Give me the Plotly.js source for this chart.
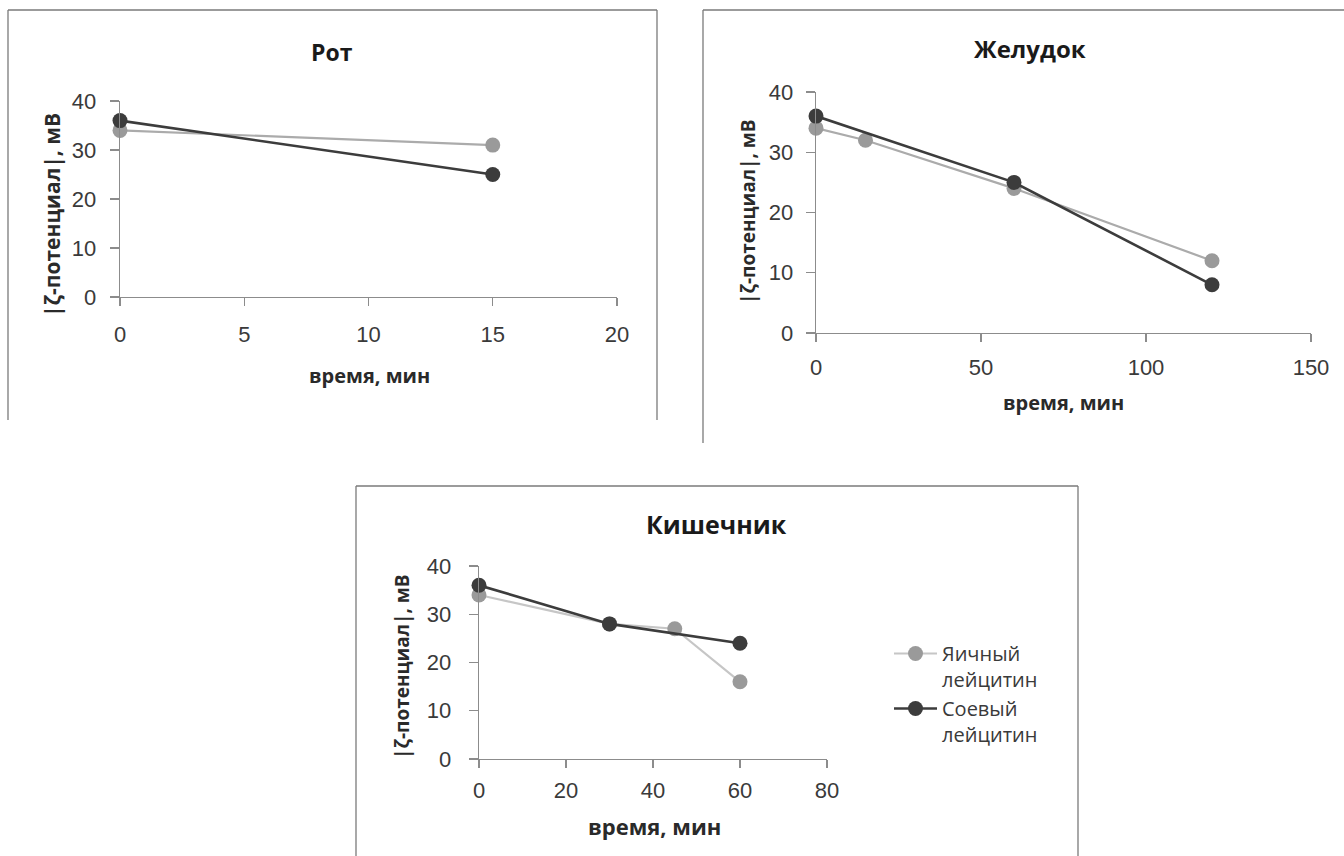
<!DOCTYPE html>
<html>
<head>
<meta charset="utf-8">
<script src="https://cdn.plot.ly/plotly-3.0.1.min.js"></script>
<style>html,body{margin:0;padding:0;background:#fff;}#chart{width:1344px;height:856px;}</style>
</head>
<body>
<div id="chart"></div>
<script>
// ---- Data ----
const seriesNames = ['Яичный<br>лейцитин', 'Соевый<br>лейцитин'];
const panelTitles = ['Рот', 'Желудок', 'Кишечник'];
const xTitle = 'время, мин';
const yTitle = '|ζ-потенциал|, мВ';

const mouthEggTime = [0, 15];
const mouthEgg = [34, 31];
const mouthSoyTime = [0, 15];
const mouthSoy = [36, 25];

const stomachEggTime = [0, 15, 60, 120];
const stomachEgg = [34, 32, 24, 12];
const stomachSoyTime = [0, 60, 120];
const stomachSoy = [36, 25, 8];

const intestineEggTime = [0, 30, 45, 60];
const intestineEgg = [34, 28, 27, 16];
const intestineSoyTime = [0, 30, 60];
const intestineSoy = [36, 28, 24];

const xRanges = [[0, 20], [0, 150], [0, 80]];
const xDticks = [5, 50, 20];
const yRange = [0, 40];
const yDtick = 10;

// ---- Styles ----
const W = 1344, H = 856;
const eggMarker = '#9a9a9a', eggLine = '#ababab';
const soyColor = '#3c3c3c';
const tickFont = {family: 'Liberation Sans, sans-serif', size: 22, color: '#3a3a3a'};
const boldFam = 'Open Sans, Liberation Sans, sans-serif';
const axisColor = '#8c8c8c';

function px(x) { return x / W; }
function py(y) { return 1 - y / H; }

function mk(x, y, name, egg, xa, ya, showlegend, lineColor) {
  return {
    x: x, y: y, name: name, type: 'scatter', mode: 'lines+markers',
    xaxis: xa, yaxis: ya, showlegend: showlegend, cliponaxis: false,
    line: {color: lineColor || (egg ? eggLine : soyColor), width: egg ? 2.2 : 2.6},
    marker: {color: egg ? eggMarker : soyColor, size: 15, symbol: 'circle'}
  };
}

const traces = [
  mk(mouthEggTime, mouthEgg, seriesNames[0], true, 'x', 'y', false),
  mk(mouthSoyTime, mouthSoy, seriesNames[1], false, 'x', 'y', false),
  mk(stomachEggTime, stomachEgg, seriesNames[0], true, 'x2', 'y2', false),
  mk(stomachSoyTime, stomachSoy, seriesNames[1], false, 'x2', 'y2', false),
  mk(intestineEggTime, intestineEgg, seriesNames[0], true, 'x3', 'y3', true, '#c6c6c6'),
  mk(intestineSoyTime, intestineSoy, seriesNames[1], false, 'x3', 'y3', true)
];

function xaxis(i, dom, anchor, standoff) {
  return {
    domain: dom, range: xRanges[i], dtick: xDticks[i], tick0: 0, anchor: anchor,
    showgrid: false, zeroline: false, showline: true, linecolor: axisColor, linewidth: 1.3,
    ticks: 'outside', ticklen: 8, tickcolor: axisColor, tickwidth: 1.3,
    ticklabelstandoff: standoff, ticklabeloverflow: 'allow', tickfont: tickFont, fixedrange: true
  };
}
function yaxis(dom, anchor, standoff) {
  return {
    domain: dom, range: yRange, dtick: yDtick, tick0: 0, anchor: anchor,
    showgrid: false, zeroline: false, showline: true, linecolor: axisColor, linewidth: 1.3,
    ticks: 'outside', ticklen: 9, tickcolor: axisColor, tickwidth: 1.3,
    ticklabelstandoff: standoff, tickfont: tickFont, fixedrange: true
  };
}

// plot-area pixel boxes [x0, x1, yBottom, yTop]
const boxes = [[120, 617, 297, 101], [816, 1311, 333, 92], [479, 827, 759, 566]];
const layout = {
  width: W, height: H, margin: {l: 0, r: 0, t: 0, b: 0},
  paper_bgcolor: '#fff', plot_bgcolor: 'rgba(0,0,0,0)',
  showlegend: true,
  legend: {
    x: px(889), y: py(634), xanchor: 'left', yanchor: 'top', valign: 'top',
    font: {family: 'Open Sans, Liberation Sans, sans-serif', size: 20, color: '#3a3a3a'},
    traceorder: 'normal', itemwidth: 43, bgcolor: 'rgba(0,0,0,0)'
  },
  xaxis: xaxis(0, [px(boxes[0][0]), px(boxes[0][1])], 'y', 9),
  yaxis: yaxis([py(boxes[0][2]), py(boxes[0][3])], 'x', 9),
  xaxis2: xaxis(1, [px(boxes[1][0]), px(boxes[1][1])], 'y2', 6),
  yaxis2: yaxis([py(boxes[1][2]), py(boxes[1][3])], 'x2', 8),
  xaxis3: xaxis(2, [px(boxes[2][0]), px(boxes[2][1])], 'y3', 3),
  yaxis3: yaxis([py(boxes[2][2]), py(boxes[2][3])], 'x3', 13),
  annotations: [],
  shapes: []
};

// Titles
const titlePos = [[332, 52], [1030, 49], [716, 524]];
const titleSizes = [23, 24, 25];
const xTitlePos = [[369, 376], [1063, 402], [654, 826]];
const xTitleSizes = [20, 20, 22];
const yTitlePos = [[52, 215], [748, 212], [402, 667]];
const yTitleSizes = [21, 19, 19];
for (let i = 0; i < 3; i++) {
  layout.annotations.push({
    text: '<b>' + panelTitles[i] + '</b>', xref: 'paper', yref: 'paper',
    x: px(titlePos[i][0]), y: py(titlePos[i][1]), xanchor: 'center', yanchor: 'middle',
    showarrow: false, font: {family: boldFam, size: titleSizes[i], color: '#1a1a1a'}
  });
  layout.annotations.push({
    text: '<b>' + xTitle + '</b>', xref: 'paper', yref: 'paper',
    x: px(xTitlePos[i][0]), y: py(xTitlePos[i][1]), xanchor: 'center', yanchor: 'middle',
    showarrow: false, font: {family: boldFam, size: xTitleSizes[i], color: '#2a2a2a'}
  });
  layout.annotations.push({
    text: '<b>' + yTitle + '</b>', xref: 'paper', yref: 'paper', textangle: -90,
    x: px(yTitlePos[i][0]), y: py(yTitlePos[i][1]), xanchor: 'center', yanchor: 'middle',
    showarrow: false, font: {family: boldFam, size: yTitleSizes[i], color: '#2a2a2a'}
  });
}

// Frames around the chart panels
const frameColor = '#7a7a7a';
function seg(x0, y0, x1, y1) {
  layout.shapes.push({type: 'line', xref: 'paper', yref: 'paper',
    x0: px(x0), y0: py(y0), x1: px(x1), y1: py(y1), line: {color: frameColor, width: 1.3}});
}
seg(8, 10, 657, 10); seg(8, 10, 8, 420); seg(657, 10, 657, 420);
seg(703, 10, 1344, 10); seg(703, 10, 703, 443);
seg(356, 486, 1078, 486); seg(356, 486, 356, 856); seg(1078, 486, 1078, 856);

Plotly.newPlot('chart', traces, layout, {displayModeBar: false, staticPlot: true});
</script>
</body>
</html>
